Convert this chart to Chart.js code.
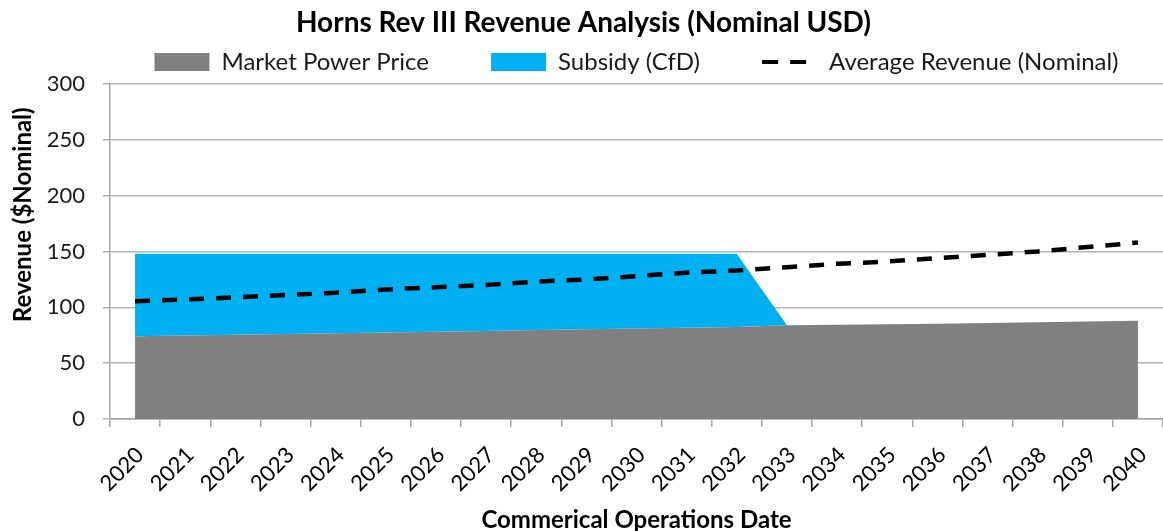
<!DOCTYPE html>
<html>
<head>
<meta charset="utf-8">
<script src="https://cdn.jsdelivr.net/npm/chart.js@4.4.0/dist/chart.umd.min.js"></script>
<style>
  body { margin: 0; background: #fff; }
  #wrap { width: 1163px; height: 531px; }
</style>
</head>
<body>
<div id="wrap"><canvas id="graph" width="1163" height="531"></canvas></div>
<script>
/* ---------------- data ---------------- */
const years = ["2020","2021","2022","2023","2024","2025","2026","2027","2028","2029","2030",
               "2031","2032","2033","2034","2035","2036","2037","2038","2039","2040"];

const marketPrice = [74, 74.7, 75.4, 76.1, 76.8, 77.5, 78.2, 78.9, 79.6, 80.3, 81,
                     81.7, 82.4, 83.9, 84.3, 84.8, 85.4, 86, 86.6, 87.3, 88];

const subsidy = [74, 73.3, 72.6, 71.9, 71.2, 70.5, 69.8, 69.1, 68.4, 67.7, 67,
                 66.3, 65.6, 0, 0, 0, 0, 0, 0, 0, 0];

const avgRevenue = [105.5, 107, 109, 111, 113, 116, 118, 120, 123, 125, 128,
                    131, 133, 136, 139, 141, 144, 147, 150, 154, 158];

const seriesNames = ["Market Power Price", "Subsidy (CfD)", "Average Revenue (Nominal)"];
const yTicks = [0, 50, 100, 150, 200, 250, 300];

/* ---------------- chart ---------------- */
const FONT = "Lato";
const ctx = document.getElementById("graph").getContext("2d");

const data = {
    labels: years,
    datasets: [
        {
            label: seriesNames[0],
            data: marketPrice,
            backgroundColor: "#808080",
            borderColor: "transparent",
            borderWidth: 0,
            fill: "origin",
            pointRadius: 0,
            order: 1,
            yAxisID: "y"
        },
        {
            label: seriesNames[1],
            data: subsidy,
            backgroundColor: "#00b0f0",
            borderColor: "transparent",
            borderWidth: 0,
            fill: "-1",
            pointRadius: 0,
            order: 2,
            yAxisID: "y"
        },
        {
            label: seriesNames[2],
            data: avgRevenue,
            borderColor: "#000",
            backgroundColor: "transparent",
            borderWidth: 4.5,
            borderDash: [15, 12],
            fill: false,
            pointRadius: 0,
            order: 0,
            yAxisID: "y2"
        }
    ]
};

const config = {
    type: "line",
    data: data,
    options: {
        responsive: false,
        animation: false,
        layout: { padding: { left: 0, right: -4, top: 0, bottom: 0 } },
        plugins: {
            tooltip: { enabled: false },
            title: {
                display: true,
                text: "Horns Rev III Revenue Analysis (Nominal USD)",
                color: "#000",
                font: { family: FONT, size: 28, weight: "bold", lineHeight: 1.0 },
                padding: { top: 9, bottom: 0 }
            },
            legend: {
                position: "top",
                fullSize: false,
                labels: {
                    color: "#1a1a1a",
                    font: { family: FONT, size: 24 },
                    usePointStyle: true,
                    pointStyleWidth: 55,
                    boxHeight: 18,
                    padding: 13,
                    generateLabels: function (chart) {
                        return chart.data.datasets.map(function (ds, i) {
                            return {
                                text: i < 2 ? ds.label + "        " : ds.label,
                                fillStyle: ds.backgroundColor,
                                strokeStyle: ds.borderColor,
                                lineWidth: i === 2 ? 4 : 0,
                                lineDash: i === 2 ? [16, 12] : [],
                                pointStyle: i === 2 ? "line" : "rect",
                                hidden: false,
                                datasetIndex: i,
                                fontColor: "#1a1a1a"
                            };
                        });
                    }
                }
            }
        },
        scales: {
            x: {
                offset: true,
                grid: {
                    offset: true,
                    drawOnChartArea: false,
                    drawTicks: true,
                    tickLength: 8,
                    color: "#a6a6a6",
                    lineWidth: 1.5
                },
                border: { color: "#a6a6a6", width: 1.5 },
                ticks: {
                    color: "#000",
                    font: { family: FONT, size: 22 },
                    minRotation: 45,
                    maxRotation: 45,
                    autoSkip: false,
                    padding: 15,
                    labelOffset: 5
                },
                title: {
                    display: true,
                    text: "Commerical Operations Date",
                    color: "#000",
                    font: { family: FONT, size: 24, weight: "bold" },
                    padding: { top: 0, bottom: -4 }
                },
                afterFit: function (scale) {
                    scale.height = 112;
                    scale.paddingLeft = 0;
                    scale.paddingRight = 0;
                }
            },
            y: {
                stacked: true,
                min: 0,
                max: 300,
                afterBuildTicks: function (scale) {
                    scale.ticks = yTicks.map(function (v) { return { value: v }; });
                },
                grid: { color: "#b3b3b3", lineWidth: 1.5, tickLength: 7 },
                border: { color: "#a6a6a6", width: 1.5 },
                ticks: {
                    color: "#1a1a1a",
                    font: { family: FONT, size: 22 },
                    padding: 18
                },
                title: {
                    display: true,
                    text: "Revenue ($Nominal)    ",
                    align: "end",
                    color: "#000",
                    font: { family: FONT, size: 24, weight: "bold" },
                    padding: { top: 9, bottom: 0 }
                },
                afterFit: function (scale) { scale.width = 110; }
            },
            y2: {
                display: false,
                min: 0,
                max: 300
            }
        }
    }
};

const myChart = new Chart(ctx, config);
</script>
</body>
</html>
